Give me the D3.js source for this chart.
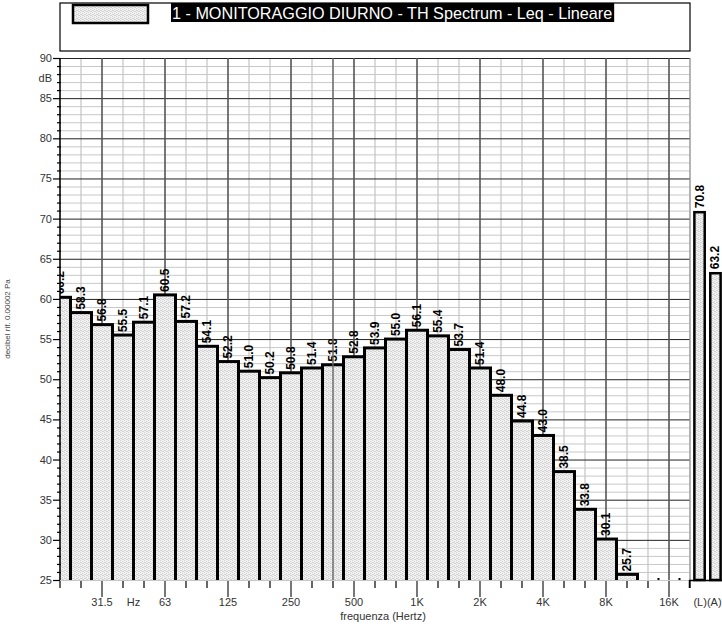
<!DOCTYPE html>
<html>
<head>
<meta charset="utf-8">
<script src="https://cdn.jsdelivr.net/npm/d3@7"></script>
<style>
  html, body { margin: 0; padding: 0; background: #fff; }
  svg { display: block; font-family: "Liberation Sans", Arial, sans-serif; }
</style>
</head>
<body>
<svg id="chart" width="722" height="626"></svg>
<script>
// ---------- DATA ----------
const title = "1 - MONITORAGGIO DIURNO - TH Spectrum - Leq - Lineare";
const bands = ["20","25","31.5","40","50","63","80","100","125","160","200","250","315","400","500","630","800","1K","1.25K","1.6K","2K","2.5K","3.15K","4K","5K","6.3K","8K","10K","12.5K","16K","20K"];
const values = [60.2,58.3,56.8,55.5,57.1,60.5,57.2,54.1,52.2,51.0,50.2,50.8,51.4,51.8,52.8,53.9,55.0,56.1,55.4,53.7,51.4,48.0,44.8,43.0,38.5,33.8,30.1,25.7,24.0,23.0,22.0];
const octaveLabels = ["31.5","63","125","250","500","1K","2K","4K","8K","16K"];
const unitBetween = ["40","50"];      // "Hz" label sits between these bands
const cursorBand = "400";
const totalCats = ["(L)","(A)"];
const totalValues = [70.8, 63.2];
const yMajorTicks = [25,30,35,40,45,50,55,60,65,70,75,80,85,90];
const yDomain = [25, 90];
const yUnit = "dB";
const yTitle = "decibel rif. 0.00002 Pa";
const xTitle = "frequenza (Hertz)";

// ---------- LAYOUT ----------
const svg = d3.select("#chart");
const L = 60, R = 690, T = 58, B = 580;

const x = d3.scalePoint().domain(bands).range([L, R]);
const step = x.step();
const y = d3.scaleLinear().domain(yDomain).range([B, T]);
const xt = d3.scaleBand().domain(totalCats).range([692, 723]).paddingInner(0.35).paddingOuter(0.15);

const defs = svg.append("defs");
const pat = defs.append("pattern").attr("id","dots").attr("width",4).attr("height",4)
  .attr("patternUnits","userSpaceOnUse");
pat.append("rect").attr("width",4).attr("height",4).attr("fill","#f1f1f1");
[[0,0],[2,1],[1,2],[3,3],[2,3],[0,2]].forEach(([px,py]) =>
  pat.append("rect").attr("x",px).attr("y",py).attr("width",1).attr("height",1).attr("fill","#d2d2d2"));

defs.append("clipPath").attr("id","plotclip").append("rect")
  .attr("x", L).attr("y", T - 40).attr("width", R - L).attr("height", B - T + 40);
defs.append("clipPath").attr("id","barclip").append("rect")
  .attr("x", L).attr("y", T).attr("width", R - L).attr("height", B - T);

// ---------- TITLE BOX ----------
svg.append("rect").attr("x", L).attr("y", 3).attr("width", R - L).attr("height", 48)
  .attr("fill","#fff").attr("stroke","#000").attr("stroke-width",1.2);
svg.append("rect").attr("x", 73).attr("y", 5).attr("width", 75).attr("height", 18)
  .attr("fill","url(#dots)").attr("stroke","#000").attr("stroke-width",2.5);
const tbg = svg.append("rect").attr("x", 171).attr("y", 3).attr("height", 19).attr("fill","#000");
const tt = svg.append("text").attr("x", 172).attr("y", 18.5).attr("fill","#fff")
  .attr("font-size", 16.2).text(title);
tbg.attr("width", tt.node().getComputedTextLength() + 3);

// ---------- GRID ----------
const grid = svg.append("g");
const yMinor = d3.range(yDomain[0] + 1, yDomain[1]).filter(v => v % 5 !== 0);
grid.selectAll(".hmin").data(yMinor).join("line")
  .attr("x1", L).attr("x2", R).attr("y1", d => y(d) + 0.5).attr("y2", d => y(d) + 0.5)
  .attr("stroke","#c8c8c8").attr("stroke-width",1);
grid.selectAll(".vmin").data(bands.filter(b => !octaveLabels.includes(b))).join("line")
  .attr("x1", d => x(d)).attr("x2", d => x(d)).attr("y1", T).attr("y2", B)
  .attr("stroke","#c4c4c4").attr("stroke-width",1.2);
grid.selectAll(".hmaj").data(yMajorTicks.filter(v => v > yDomain[0])).join("line")
  .attr("x1", L).attr("x2", R).attr("y1", d => y(d) + 0.5).attr("y2", d => y(d) + 0.5)
  .attr("stroke","#222").attr("stroke-width",1);
grid.append("line").attr("x1", L).attr("x2", R).attr("y1", B + 0.5).attr("y2", B + 0.5)
  .attr("stroke","#c8c8c8");
grid.selectAll(".vmaj").data(octaveLabels).join("line")
  .attr("x1", d => x(d)).attr("x2", d => x(d)).attr("y1", T).attr("y2", B)
  .attr("stroke","#555").attr("stroke-width",1.6);
grid.append("line").attr("x1", R).attr("x2", R).attr("y1", T).attr("y2", B)
  .attr("stroke","#999").attr("stroke-width",1.2);

// ---------- BARS ----------
const data = bands.map((b, i) => ({ b, v: values[i] }));
const bars = svg.append("g").attr("clip-path","url(#barclip)");
bars.selectAll("rect").data(data.filter(d => d.v > yDomain[0])).join("rect")
  .attr("x", d => x(d.b) - step / 2).attr("width", step)
  .attr("y", d => y(d.v)).attr("height", d => B + 6 - y(d.v))
  .attr("fill","url(#dots)").attr("stroke","#000").attr("stroke-width",3);

// small marks between consecutive below-range bands
const below = data.filter((d, i) => d.v <= yDomain[0] && i > 0 && data[i-1].v <= yDomain[0]);
svg.selectAll(".bdot").data(below).join("rect")
  .attr("x", d => x(d.b) - step / 2 - 1).attr("y", B - 2).attr("width", 2).attr("height", 2)
  .attr("fill","#000");

// labels
const labs = svg.append("g").attr("clip-path","url(#plotclip)");
labs.selectAll("text").data(data.filter(d => d.v > yDomain[0])).join("text")
  .attr("transform", d => `translate(${x(d.b) + 4},${y(d.v) - 3}) rotate(-90)`)
  .attr("font-size", 12).attr("font-weight","bold").attr("fill","#000")
  .text(d => d.v.toFixed(1));

// cursor line
svg.append("line").attr("x1", x(cursorBand)).attr("x2", x(cursorBand)).attr("y1", T).attr("y2", B)
  .attr("stroke","#666").attr("stroke-width",1.4);

// ---------- TOTAL BARS ----------
const td = totalCats.map((c, i) => ({ c, v: totalValues[i] }));
svg.selectAll(".tbar").data(td).join("rect")
  .attr("x", d => xt(d.c)).attr("width", xt.bandwidth())
  .attr("y", d => y(d.v)).attr("height", d => B - y(d.v))
  .attr("fill","url(#dots)").attr("stroke","#000").attr("stroke-width",2.5);
svg.selectAll(".tlab").data(td).join("text")
  .attr("transform", d => `translate(${xt(d.c) + xt.bandwidth()/2 + 4},${y(d.v) - 4}) rotate(-90)`)
  .attr("font-size", 12).attr("font-weight","bold").attr("fill","#000")
  .text(d => d.v.toFixed(1));
svg.append("line").attr("x1", R - 1).attr("x2", 722).attr("y1", B + 0.5).attr("y2", B + 0.5)
  .attr("stroke","#000").attr("stroke-width",1.5);
svg.append("line").attr("x1", R - 0.5).attr("x2", R - 0.5).attr("y1", B).attr("y2", B + 8)
  .attr("stroke","#000").attr("stroke-width",1.5);

// ---------- Y AXIS ----------
const yAxis = svg.append("g");
yAxis.append("line").attr("x1", L).attr("x2", L).attr("y1", T).attr("y2", B)
  .attr("stroke","#000").attr("stroke-width",1.5);
yAxis.selectAll(".ymin").data(yMinor).join("line")
  .attr("x1", L - 3).attr("x2", L + 1).attr("y1", d => y(d) + 0.5).attr("y2", d => y(d) + 0.5)
  .attr("stroke","#000").attr("stroke-width",1.2);
yAxis.selectAll(".ymaj").data(yMajorTicks).join("line")
  .attr("x1", L - 7).attr("x2", L).attr("y1", d => y(d) + 0.5).attr("y2", d => y(d) + 0.5)
  .attr("stroke","#000").attr("stroke-width",1.2);
yAxis.selectAll(".ylab").data(yMajorTicks).join("text")
  .attr("x", L - 8).attr("y", d => y(d) + 4).attr("text-anchor","end")
  .attr("font-size", 11).attr("fill","#333").text(d => d);
yAxis.append("text").attr("x", L - 8).attr("y", y(87.5) + 4).attr("text-anchor","end")
  .attr("font-size", 11).attr("fill","#333").text(yUnit);
svg.append("text").attr("transform", `translate(10,${y(57.5)}) rotate(-90)`)
  .attr("text-anchor","middle").attr("font-size", 8).attr("fill","#444").text(yTitle);

// ---------- X AXIS ----------
const xAxis = svg.append("g");
xAxis.selectAll(".xt").data(bands).join("line")
  .attr("x1", d => x(d)).attr("x2", d => x(d)).attr("y1", B + 1)
  .attr("y2", d => octaveLabels.includes(d) ? B + 17 : B + 8)
  .attr("stroke", d => octaveLabels.includes(d) ? "#555" : "#000")
  .attr("stroke-width", d => octaveLabels.includes(d) ? 1.6 : 1.2);
xAxis.selectAll(".xl").data(octaveLabels).join("text")
  .attr("x", d => x(d)).attr("y", B + 26).attr("text-anchor","middle")
  .attr("font-size", 11).attr("fill","#333").text(d => d);
xAxis.append("text").attr("x", (x(unitBetween[0]) + x(unitBetween[1])) / 2).attr("y", B + 26)
  .attr("text-anchor","middle").attr("font-size", 11).attr("fill","#333").text("Hz");
xAxis.append("text").attr("x", (xt(totalCats[0]) + xt(totalCats[1]) + xt.bandwidth()) / 2).attr("y", B + 26)
  .attr("text-anchor","middle").attr("font-size", 11).attr("fill","#333").text(totalCats.join(""));
xAxis.append("text").attr("x", 383).attr("y", B + 40).attr("text-anchor","middle")
  .attr("font-size", 11).attr("fill","#333").text(xTitle);
</script>
</body>
</html>
